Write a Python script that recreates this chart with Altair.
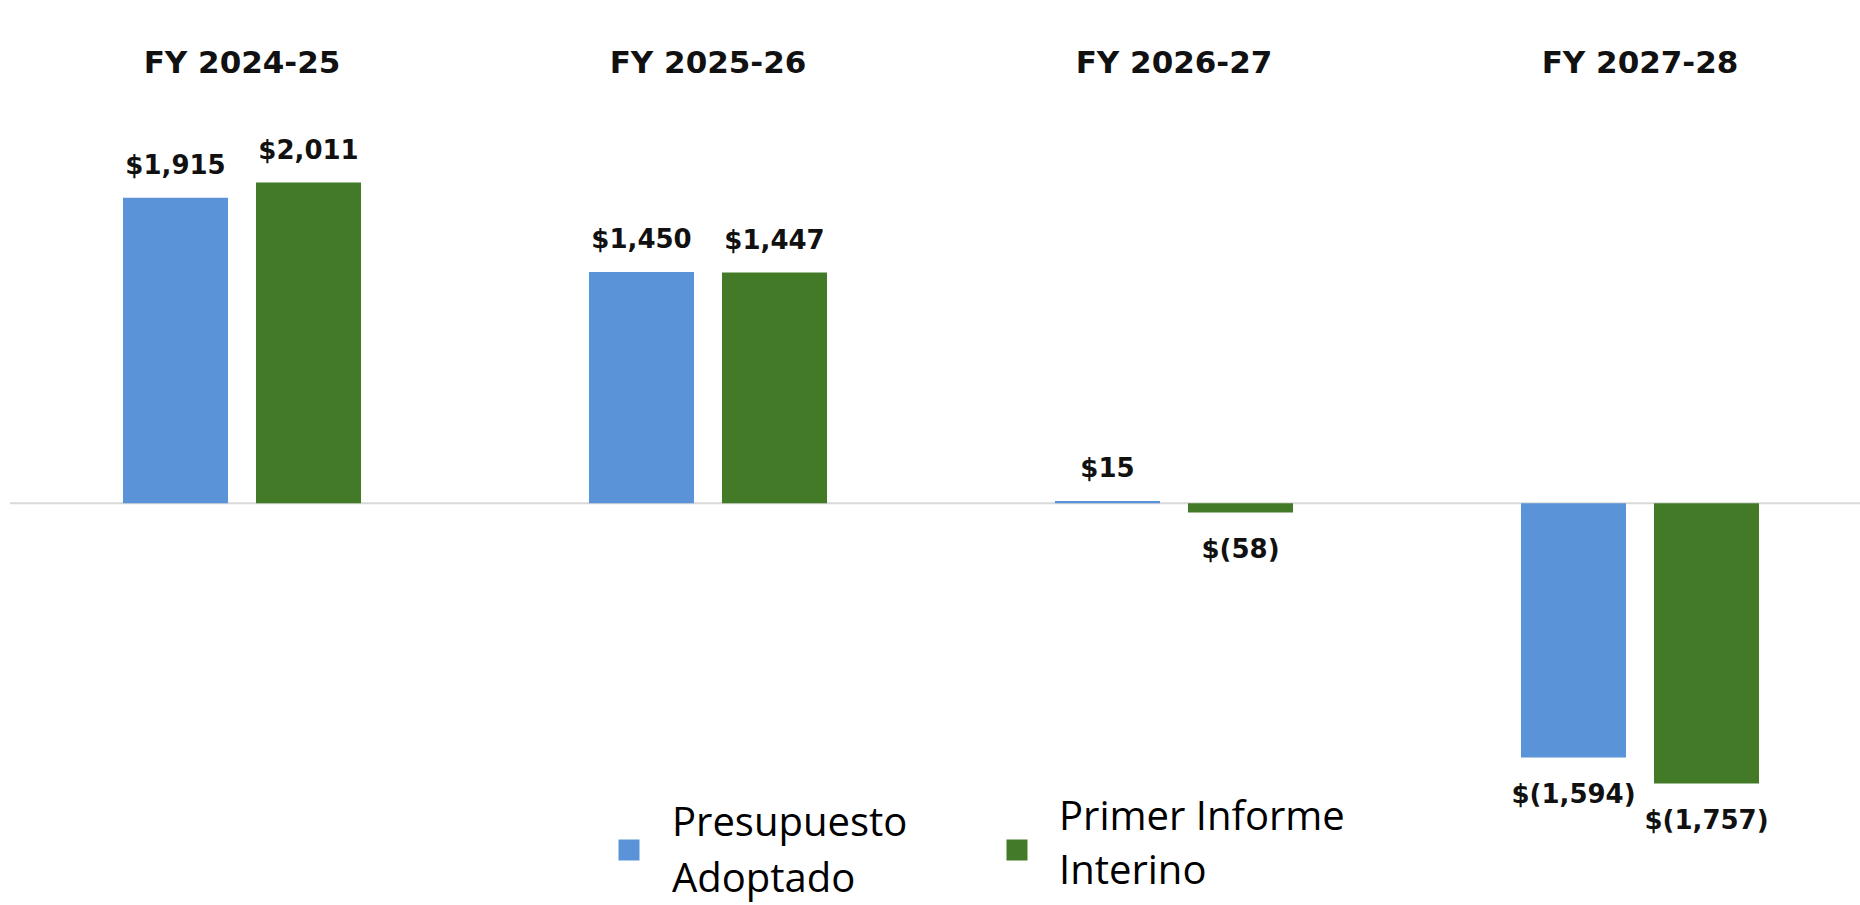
import altair as alt
import pandas as pd

# ---- data ----
years = ["FY 2024-25", "FY 2025-26", "FY 2026-27", "FY 2027-28"]
series = ["Presupuesto Adoptado", "Primer Informe Interino"]
adopted = [1915, 1450, 15, -1594]
interim = [2011, 1447, -58, -1757]
colors = ["#5B93D9", "#437A28"]
legend_lines = [["Presupuesto", "Adoptado"], ["Primer Informe", "Interino"]]

rows = []
for i, yr in enumerate(years):
    for s, vals in zip(series, [adopted, interim]):
        v = vals[i]
        lab = f"${v:,}" if v >= 0 else f"$({abs(v):,})"
        rows.append({"year": yr, "series": s, "value": v, "label": lab})
df = pd.DataFrame(rows)

x = alt.X("year:N", sort=years, axis=None,
          scale=alt.Scale(range=[-1, 1863], paddingInner=0, paddingOuter=0))
xo = alt.XOffset("series:N", sort=series,
                 scale=alt.Scale(paddingInner=0.2105, paddingOuter=0.857))
yscale = alt.Scale(domain=[-2518.5, 3155.5], nice=False, zero=False)
y = alt.Y("value:Q", axis=None, scale=yscale)
color = alt.Color("series:N", sort=series,
                  scale=alt.Scale(domain=series, range=colors), legend=None)

base = alt.Chart(df)

rule = alt.Chart(pd.DataFrame({"v": [0]})).mark_rule(
    color="#d9d9d9", strokeWidth=2
).encode(y=alt.Y("v:Q", axis=None, scale=yscale), x=alt.value(0), x2=alt.value(1850))

bars = base.mark_bar().encode(x=x, xOffset=xo, y=y, y2=alt.datum(0), color=color)

label_style = dict(font="DejaVu Sans", fontWeight="bold", fontSize=26,
                   color="#111111", align="center", baseline="alphabetic")
pos = base.transform_filter("datum.value >= 0").mark_text(dy=-24, **label_style).encode(
    x=x, xOffset=xo, y=y, text="label:N")
neg = base.transform_filter("datum.value < 0").mark_text(dy=45, **label_style).encode(
    x=x, xOffset=xo, y=y, text="label:N")

headers = alt.Chart(pd.DataFrame({"year": years})).mark_text(
    font="DejaVu Sans", fontWeight="bold", fontSize=31, color="#111111",
    align="center", baseline="alphabetic"
).encode(x=x, y=alt.value(73), text="year:N")


def legend_item(i, sx, sy, tx, ty, lh):
    d = pd.DataFrame({"series": [series[i]]})
    sq = alt.Chart(d).mark_point(shape="square", filled=True, size=441, opacity=1).encode(
        x=alt.value(sx), y=alt.value(sy), color=color)
    tt = alt.Chart(d).mark_text(
        text=legend_lines[i], align="left", baseline="alphabetic",
        font="Open Sans", fontSize=40, lineHeight=lh, color="#000000"
    ).encode(x=alt.value(tx), y=alt.value(ty))
    return [sq, tt]


legend = legend_item(0, 619, 850, 662, 836, 56) + legend_item(1, 1007, 850, 1049, 830, 54)

chart = alt.layer(rule, bars, pos, neg, headers, *legend).properties(
    width=1850, height=905,
    padding={"left": 10, "top": 0, "right": 0, "bottom": 0},
    autosize=alt.AutoSizeParams(type="none"),
    background="white",
).configure_view(stroke=None)

chart.save("out.html", embed_options={"renderer": "svg", "actions": False})
